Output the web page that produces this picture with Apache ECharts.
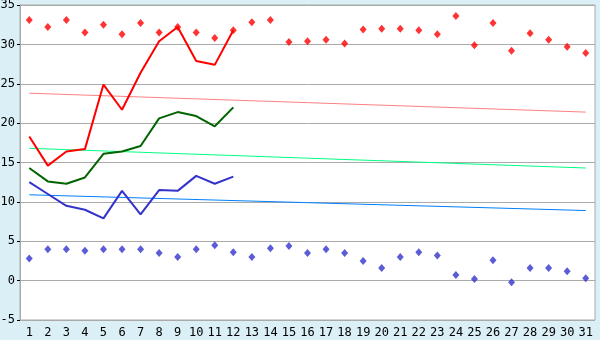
<!DOCTYPE html>
<html>
<head>
<meta charset="utf-8">
<script src="https://cdn.jsdelivr.net/npm/echarts@6/dist/echarts.min.js"></script>
<style>
html,body{margin:0;padding:0;background:#DAEFF6;}
#c{width:600px;height:340px;}
</style>
</head>
<body>
<div id="c"></div>
<script>
var days = ['1','2','3','4','5','6','7','8','9','10','11','12','13','14','15','16','17','18','19','20','21','22','23','24','25','26','27','28','29','30','31'];
var recordMax = [33.1,32.2,33.1,31.5,32.5,31.3,32.7,31.5,32.2,31.5,30.8,31.8,32.8,33.1,30.3,30.4,30.6,30.1,31.9,32.0,32.0,31.8,31.3,33.6,29.9,32.7,29.2,31.4,30.6,29.7,28.9];
var recordMin = [2.8,4.0,4.0,3.8,4.0,4.0,4.0,3.5,3.0,4.0,4.5,3.6,3.0,4.1,4.4,3.5,4.0,3.5,2.5,1.6,3.0,3.6,3.2,0.7,0.2,2.6,-0.2,1.6,1.6,1.2,0.3];
var dailyMax = [18.3,14.6,16.4,16.7,24.9,21.7,26.4,30.4,32.2,27.9,27.4,31.8];
var dailyMean = [14.3,12.6,12.3,13.1,16.1,16.4,17.1,20.6,21.4,20.9,19.6,22.0];
var dailyMin = [12.5,11.0,9.5,9.0,7.9,11.4,8.4,11.5,11.4,13.3,12.3,13.2];
var normalMax = [23.8,21.4];
var normalMean = [16.8,14.3];
var normalMin = [10.9,8.9];
var yTicks = {min:-5,max:35,interval:5};

var chart = echarts.init(document.getElementById('c'));
var font = 'DejaVu Sans Mono';
function trend(v){ return [[0, v[0]], [days.length-1, v[1]]]; }
function line(data,color){
  return {type:'line',data:data,symbol:'none',lineStyle:{color:color,width:2},itemStyle:{color:color},z:3};
}
function tline(data,color){
  return {type:'line',data:trend(data),symbol:'none',lineStyle:{color:color,width:1},itemStyle:{color:color},z:2};
}
function dots(data,color){
  return {type:'scatter',data:data,symbol:'diamond',symbolSize:[7,8],itemStyle:{color:color},z:4};
}
chart.setOption({
  animation:false,
  backgroundColor:'#DAEFF6',
  grid:{left:20,right:5,top:5,bottom:20,outerBoundsMode:'none',containLabel:false,show:true,backgroundColor:'#ffffff',borderColor:'#AAAAAA',borderWidth:1},
  xAxis:{type:'category',data:days,boundaryGap:true,
    axisLine:{lineStyle:{color:'#AAAAAA'}},
    axisTick:{alignWithLabel:true,length:5,lineStyle:{color:'#000000'}},
    axisLabel:{color:'#000000',fontFamily:font,fontSize:12,margin:7,interval:0},
    splitLine:{show:false}},
  yAxis:{type:'value',min:yTicks.min,max:yTicks.max,interval:yTicks.interval,
    axisLine:{show:true,lineStyle:{color:'#AAAAAA'}},
    axisTick:{show:true,length:3,lineStyle:{color:'#000000'}},
    axisLabel:{color:'#000000',fontFamily:font,fontSize:12,margin:5},
    splitLine:{lineStyle:{color:'#AAAAAA',width:1}}},
  series:[
    tline(normalMax,'#FF8080'),
    tline(normalMean,'#00FF80'),
    tline(normalMin,'#0080FF'),
    line(dailyMax,'#FF0000'),
    line(dailyMean,'#006400'),
    line(dailyMin,'#3333CC'),
    dots(recordMax,'#FF0000'),
    dots(recordMin,'#3333CC')
  ]
});
</script>
</body>
</html>
